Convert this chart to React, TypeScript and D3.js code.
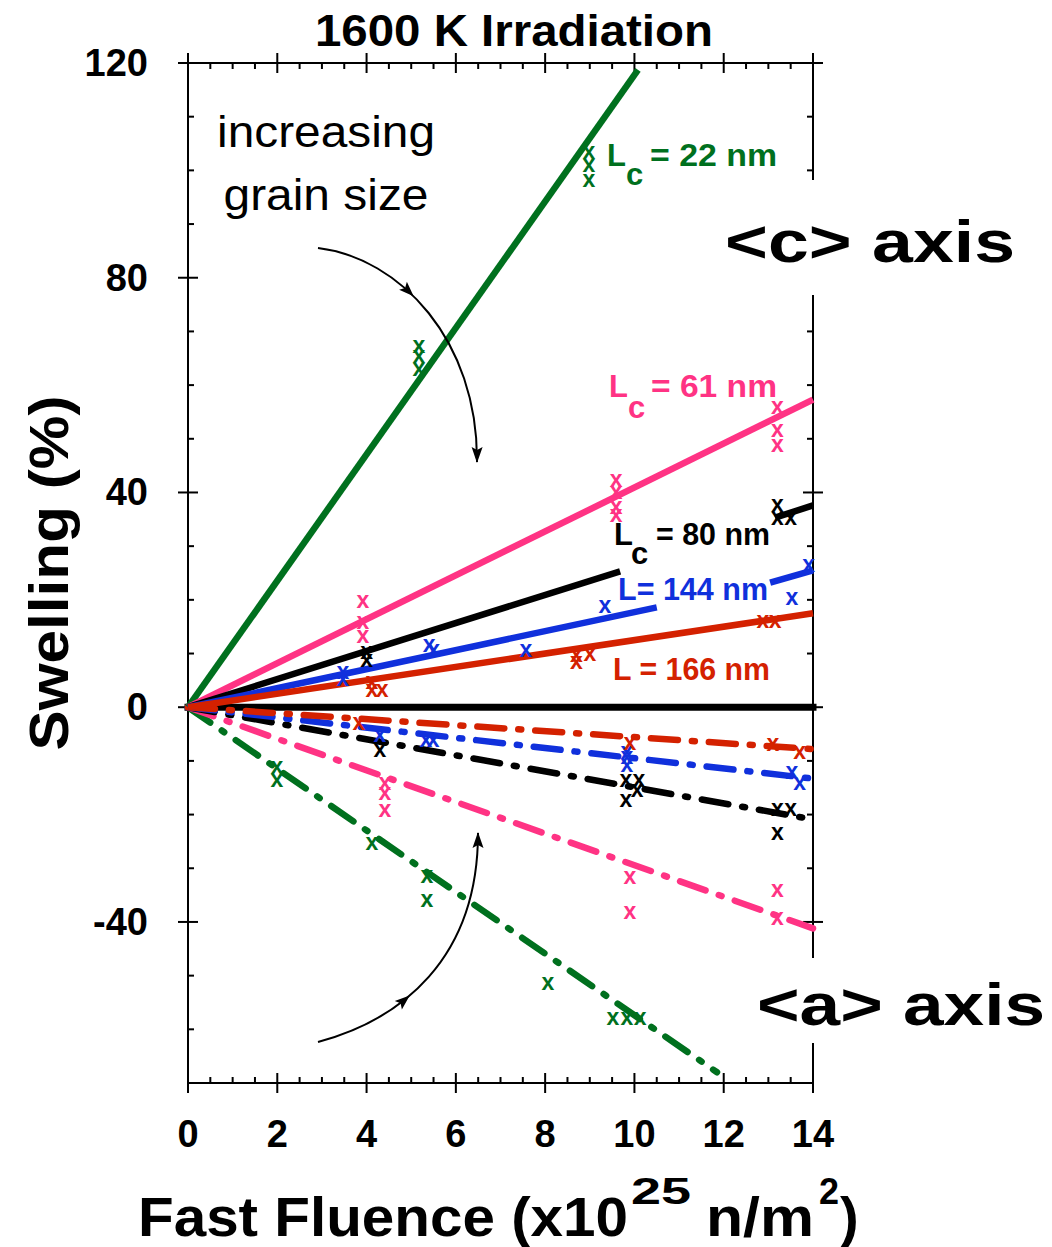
import React from 'react';
import * as d3 from 'd3';

type P = [number, number];

// ---------- axis ticks ----------
const xTickValues = [0, 2, 4, 6, 8, 10, 12, 14];
const yTickValues = [-40, 0, 40, 80, 120];
const xDomain: P = [0, 14];
const yDomain: P = [-70, 120];

// ---------- series (grain sizes) ----------
const seriesKeys = ['22', '61', '80', '144', '166'];
const seriesColors = ['#00701e', '#ff3384', '#000000', '#1030dc', '#d42100'];

// <c> axis fitted lines (visible segments), swelling %
const cFit22: P[][] = [[[0, 0], [10.08, 118.7]]];
const cFit61: P[][] = [[[0, 0], [14, 57.3]]];
const cFit80: P[][] = [[[0, 0], [9.68, 25.3]], [[13.15, 35.3], [14, 37.6]]];
const cFit144: P[][] = [[[0, 0], [10.5, 18.6]], [[13.04, 23.2], [14, 25.5]]];
const cFit166: P[][] = [[[0, 0], [14, 17.5]]];

// <a> axis fitted lines
const aFit22: P[] = [[0, 0], [11.85, -68]];
const aFit61: P[] = [[0, 0], [14, -41.2]];
const aFit80: P[] = [[0, 0], [14, -20.9]];
const aFit144: P[] = [[0, 0], [14, -13.3]];
const aFit166: P[] = [[0, 0], [14, -7.8]];

// <c> axis measured points
const cPts22: P[] = [[8.98, 103.5], [8.98, 101], [8.98, 98.2], [5.17, 67.2], [5.17, 65.4], [5.17, 63]];
const cPts61: P[] = [[3.92, 19.7], [3.92, 15.9], [3.92, 13.2], [9.59, 42.3], [9.59, 40], [9.59, 37.3], [9.59, 35.8], [13.2, 55.9], [13.2, 51.6], [13.2, 48.8]];
const cPts80: P[] = [[4.0, 10.2], [4.0, 8.8], [13.2, 37.6], [13.2, 35.2], [13.5, 35.2]];
const cPts144: P[] = [[3.47, 6.5], [3.47, 5.2], [5.4, 11.6], [5.5, 10.6], [7.57, 10.6], [9.34, 18.8], [13.53, 20.3], [13.9, 26.4]];
const cPts166: P[] = [[4.12, 4.7], [4.12, 3.2], [4.35, 3.2], [8.7, 9.7], [8.7, 8.4], [9.0, 10], [12.88, 16], [13.15, 16]];

// <a> axis measured points
const aPts22: P[] = [[1.99, -11.2], [1.99, -13.6], [4.12, -25.3], [5.35, -31.5], [5.35, -36], [8.06, -51.4], [9.52, -57.9], [9.83, -57.9], [10.13, -57.9]];
const aPts61: P[] = [[4.41, -14.2], [4.41, -16], [4.41, -19.2], [9.9, -31.7], [9.9, -38.2], [13.2, -34.1], [13.2, -39.3]];
const aPts80: P[] = [[4.3, -8.0], [9.81, -13.6], [10.1, -13.6], [9.81, -17.3], [10.06, -15.5], [13.2, -19], [13.5, -19], [13.2, -23.5]];
const aPts144: P[] = [[4.3, -5.2], [5.33, -6.1], [5.49, -6.1], [9.83, -8.4], [9.83, -9.3], [9.83, -10.8], [13.53, -12.1], [13.7, -14.2]];
const aPts166: P[] = [[3.83, -3.0], [9.9, -6.7], [13.1, -6.9], [13.7, -8.4]];

const cFits = [cFit22, cFit61, cFit80, cFit144, cFit166];
const aFits = [aFit22, aFit61, aFit80, aFit144, aFit166];
const cPts = [cPts22, cPts61, cPts80, cPts144, cPts166];
const aPts = [aPts22, aPts61, aPts80, aPts144, aPts166];

const FONT = "'Liberation Sans', Arial, Helvetica, sans-serif";

function bez(p: number[][], t: number) {
  const u = 1 - t;
  const a = u * u * u, b = 3 * u * u * t, c = 3 * u * t * t, d = t * t * t;
  const pt = [a * p[0][0] + b * p[1][0] + c * p[2][0] + d * p[3][0], a * p[0][1] + b * p[1][1] + c * p[2][1] + d * p[3][1]];
  const da = -3 * u * u, db = 3 * u * u - 6 * u * t, dc = 6 * u * t - 3 * t * t, dd = 3 * t * t;
  const dv = [da * p[0][0] + db * p[1][0] + dc * p[2][0] + dd * p[3][0], da * p[0][1] + db * p[1][1] + dc * p[2][1] + dd * p[3][1]];
  const len = Math.hypot(dv[0], dv[1]);
  return { pt, dir: [dv[0] / len, dv[1] / len] };
}

function Arrow({ pts, mid }: { pts: number[][]; mid: number }) {
  const d = `M${pts[0][0]},${pts[0][1]} C${pts[1][0]},${pts[1][1]} ${pts[2][0]},${pts[2][1]} ${pts[3][0]},${pts[3][1]}`;
  const heads = [bez(pts, mid), bez(pts, 1)].map(({ pt, dir }, i) => {
    const L = 15, Wd = 5.5;
    const bx = pt[0] - dir[0] * L, by = pt[1] - dir[1] * L;
    const px = -dir[1], py = dir[0];
    const tip = [pt[0] + dir[0] * (i === 1 ? 1 : 0), pt[1] + dir[1] * (i === 1 ? 1 : 0)];
    return `${tip[0]},${tip[1]} ${bx + px * Wd},${by + py * Wd} ${bx + dir[0] * 3},${by + dir[1] * 3} ${bx - px * Wd},${by - py * Wd}`;
  });
  return (
    <g>
      <path d={d} fill="none" stroke="#000" strokeWidth={2} />
      {heads.map((h, i) => <polygon key={i} points={h} fill="#000" />)}
    </g>
  );
}

export default function App() {
  const W = 1052, H = 1247;
  const x = d3.scaleLinear().domain(xDomain).range([188, 813]);
  const y = d3.scaleLinear().domain(yDomain).range([1083, 63]);
  const line = d3.line<P>().x(d => x(d[0])).y(d => y(d[1]));

  const xL = x(0), xR = x(14), yT = y(120), yB = y(-70);
  const xMinor = d3.range(0, 14.001, 0.5).filter(v => !xTickValues.includes(v));
  const yMinor = d3.range(-60, 120.001, 10).filter(v => !yTickValues.includes(v));

  return (
    <svg width={W} height={H} style={{ position: 'absolute', left: 0, top: 0, background: '#fff' }} fontFamily={FONT}>
      <rect x={0} y={0} width={W} height={H} fill="#fff" />
      {/* frame */}
      <g stroke="#000" strokeWidth={2} fill="none">
        <line x1={xL} y1={yT - 10} x2={xL} y2={yB + 10} />
        <line x1={xR} y1={yT - 10} x2={xR} y2={yB + 10} />
        <line x1={xL - 10} y1={yT} x2={xR + 10} y2={yT} />
        <line x1={xL} y1={yB} x2={xR} y2={yB} />
        {xTickValues.map(v => (
          <g key={'xt' + v}>
            <line x1={x(v)} x2={x(v)} y1={yB - 10} y2={yB + 10} />
            <line x1={x(v)} x2={x(v)} y1={yT - 10} y2={yT + 10} />
          </g>
        ))}
        {xMinor.map(v => (
          <g key={'xm' + v}>
            <line x1={x(v)} x2={x(v)} y1={yB - 6} y2={yB} />
            <line x1={x(v)} x2={x(v)} y1={yT} y2={yT + 6} />
          </g>
        ))}
        {yTickValues.map(v => (
          <g key={'yt' + v}>
            <line x1={xL - 10} x2={xL + 10} y1={y(v)} y2={y(v)} />
            <line x1={xR - 10} x2={xR + 10} y1={y(v)} y2={y(v)} />
          </g>
        ))}
        {yMinor.map(v => (
          <g key={'ym' + v}>
            <line x1={xL} x2={xL + 6} y1={y(v)} y2={y(v)} />
            <line x1={xR - 6} x2={xR} y1={y(v)} y2={y(v)} />
          </g>
        ))}
      </g>

      {/* tick labels */}
      <g fontWeight="bold" fontSize={38} fill="#000">
        {xTickValues.map(v => (
          <text key={'xl' + v} x={x(v)} y={1147} textAnchor="middle">{v}</text>
        ))}
        {yTickValues.map(v => (
          <text key={'yl' + v} x={148} y={y(v) + 13} textAnchor="end">{v}</text>
        ))}
      </g>

      {/* title and axis labels */}
      <text x={514} y={46} textAnchor="middle" fontWeight="bold" fontSize={44} textLength={398} lengthAdjust="spacingAndGlyphs">1600 K Irradiation</text>
      <text transform="translate(68,573) rotate(-90)" textAnchor="middle" fontWeight="bold" fontSize={56} textLength={355} lengthAdjust="spacingAndGlyphs">Swelling (%)</text>
      <g fontWeight="bold">
        <text x={138} y={1236} fontSize={56} textLength={490} lengthAdjust="spacingAndGlyphs">Fast Fluence (x10</text>
        <text x={631} y={1204} fontSize={36} textLength={60} lengthAdjust="spacingAndGlyphs">25</text>
        <text x={706} y={1236} fontSize={56} textLength={108} lengthAdjust="spacingAndGlyphs">n/m</text>
        <text x={819} y={1204} fontSize={36}>2</text>
        <text x={840} y={1236} fontSize={56}>)</text>
      </g>

      {/* zero line */}
      <path d={line([[0, 0], [14, 0]])!} stroke="#000" strokeWidth={7} strokeLinecap="square" fill="none" />

      {/* <a> axis dash-dot fits */}
      {aFits.map((f, i) => (
        <path key={'af' + i} d={line(f)!} fill="none" stroke={seriesColors[i]} strokeWidth={6.5}
          strokeDasharray="27,14,3,14" strokeLinecap="round" />
      ))}
      {/* <c> axis solid fits */}
      {cFits.map((segs, i) => segs.map((s, j) => (
        <path key={'cf' + i + '_' + j} d={line(s)!} fill="none" stroke={seriesColors[i]} strokeWidth={6.5} />
      )))}

      {/* data markers */}
      <g fontWeight="bold" fontSize={23} textAnchor="middle">
        {[...cPts, ...aPts].map((pts, k) => pts.map((p, j) => (
          <text key={'m' + k + '_' + j} x={x(p[0])} y={y(p[1]) + 7} fill={seriesColors[k % 5]}>x</text>
        )))}
      </g>

      {/* series labels */}
      <g fontWeight="bold" fontSize={31}>
        <g fill={seriesColors[0]}>
          <text x={607} y={166}>L</text>
          <text x={626} y={185}>c</text>
          <text x={650} y={166} textLength={127} lengthAdjust="spacingAndGlyphs">= 22 nm</text>
        </g>
        <g fill={seriesColors[1]}>
          <text x={609} y={397}>L</text>
          <text x={628} y={418}>c</text>
          <text x={651} y={397} textLength={126} lengthAdjust="spacingAndGlyphs">= 61 nm</text>
        </g>
        <g fill={seriesColors[2]}>
          <text x={614} y={545}>L</text>
          <text x={631} y={564}>c</text>
          <text x={656} y={545} textLength={114} lengthAdjust="spacingAndGlyphs">= 80 nm</text>
        </g>
        <text x={618} y={600} fill={seriesColors[3]} textLength={150} lengthAdjust="spacingAndGlyphs">L= 144 nm</text>
        <text x={613} y={680} fill={seriesColors[4]} textLength={157} lengthAdjust="spacingAndGlyphs">L = 166 nm</text>
      </g>

      {/* annotation */}
      <g fontSize={44} textAnchor="middle">
        <text x={326} y={147} textLength={218} lengthAdjust="spacingAndGlyphs">increasing</text>
        <text x={326} y={210} textLength={205} lengthAdjust="spacingAndGlyphs">grain size</text>
      </g>
      <Arrow pts={[[318, 248], [400, 258], [478, 340], [477, 462]]} mid={0.42} />
      <Arrow pts={[[318, 1042], [400, 1020], [478, 960], [478, 833]]} mid={0.4} />

      {/* crystal axis labels with white backing */}
      <rect x={722} y={180} width={330} height={115} fill="#fff" />
      <text x={725} y={262} fontWeight="bold" fontSize={60} textLength={290} lengthAdjust="spacingAndGlyphs">&lt;c&gt; axis</text>
      <rect x={752} y={958} width={300} height={85} fill="#fff" />
      <text x={757} y={1025} fontWeight="bold" fontSize={60} textLength={288} lengthAdjust="spacingAndGlyphs">&lt;a&gt; axis</text>
    </svg>
  );
}
